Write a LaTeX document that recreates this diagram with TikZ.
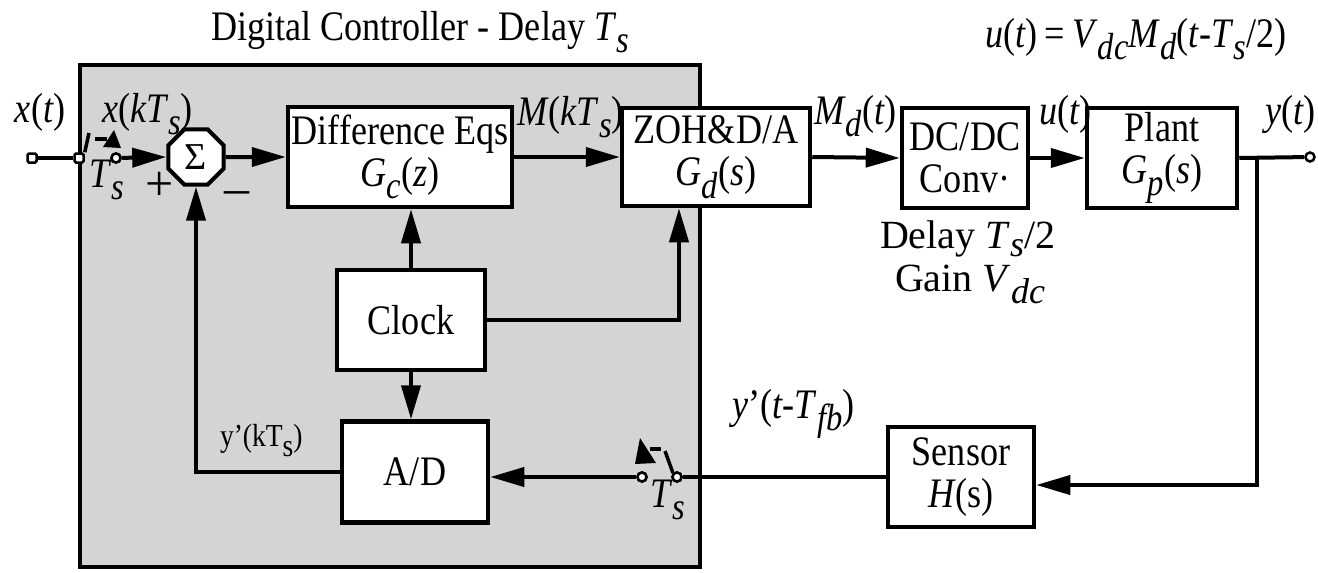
\documentclass[tikz,border=0pt]{standalone}
\usepackage{graphicx}
\usepackage{fontspec}
\setmainfont{Liberation Serif}[FakeStretch=0.86]
\newfontfamily\widefont{Liberation Serif}
\usetikzlibrary{arrows.meta,shapes.geometric}
\newcommand{\fmain}{\fontsize{42}{42}\selectfont}
\newcommand{\fsml}{\fontsize{32}{34}\selectfont}
\newcommand{\fwide}{\widefont\fontsize{40}{40}\selectfont}
\newcommand{\fsgn}{\widefont\fontsize{50}{50}\selectfont}
\newcommand{\mi}[1]{\textit{#1}}
\newcommand{\sbs}[1]{\raisebox{-0.3em}{\scalebox{0.9}{\textit{#1}}}}
\newcommand{\sbl}[1]{\raisebox{-0.22em}{\scalebox{0.9}{\textit{#1}}}}
\newcommand{\sbr}[1]{\raisebox{-0.32em}{#1}}
\tikzset{
  blk/.style={draw, fill=white, line width=4.5pt, inner sep=0pt, align=center, font=\fmain},
  arr/.style={-{Triangle[length=34pt,width=19pt]}},
  term/.style={circle, draw, fill=white, line width=2.5pt, minimum size=9pt, inner sep=0pt},
  termsq/.style={rectangle, rounded corners=1.5pt, draw, fill=white, line width=2.5pt, minimum size=9pt, inner sep=0pt},
  lbl/.style={anchor=base west, inner sep=0pt, font=\fmain},
  sgn/.style={anchor=center, inner sep=0pt, font=\fsgn},
}
\begin{document}
\begin{tikzpicture}[x=1pt,y=-1pt,line width=4pt]
\useasboundingbox (0,0) rectangle (1318,573);
% controller box
\node[draw, fill={rgb,255:red,212;green,212;blue,212}, line width=4.5pt, minimum width=620pt, minimum height=502pt, inner sep=0pt] (ctrl) at (390,316) {};
% blocks
\node[regular polygon, regular polygon sides=8, minimum size=60pt, draw, fill=white, line width=4pt, inner sep=0pt, font=\widefont\fontsize{38}{38}\selectfont] (sum) at (196,157) {Σ};
\node[blk, minimum width=224pt, minimum height=100pt] (diff) at (400,157) {Difference Eqs\\\mi{G}\sbs{c}(\mi{z})};
\node[blk, minimum width=188pt, minimum height=98pt] (zoh) at (716,157) {ZOH\&D/A\\\mi{G}\sbs{d}(\mi{s})};
\node[blk, minimum width=126pt, minimum height=100pt] (dcdc) at (965,158) {DC/DC\\Conv·};
\node[blk, minimum width=150pt, minimum height=100pt] (plant) at (1162,158) {Plant\\\mi{G}\sbs{p}(\mi{s})};
\node[blk, minimum width=148pt, minimum height=100pt] (clock) at (411,320) {Clock};
\node[blk, minimum width=146pt, minimum height=101pt] (ad) at (415,472) {A/D};
\node[blk, minimum width=146pt, minimum height=100pt] (sensor) at (961,477) {Sensor\\\mi{H}(s)};
% terminals and switches
\node[termsq] (xin) at (32,158) {};
\node[termsq] (s1a) at (79,158) {};
\node[term] (s1b) at (116,158) {};
\node[term] (yout) at (1310,157) {};
\node[term] (s2l) at (642,477) {};
\node[term] (s2r) at (677,477) {};
\coordinate (br) at (1257,157);
\coordinate (brd) at (1257,485);
\coordinate (ckturn) at (679,320);
% connectors
\draw (xin) -- (s1a);
\draw[arr] (s1b) -- (sum.west);
\draw[arr] (sum.east) -- (diff.west);
\draw[arr] (diff.east) -- (zoh.west);
\draw[arr] (zoh.east) -- (dcdc.west);
\draw[arr] (dcdc.east) -- (plant.west);
\draw (plant.east) -- (yout);
\draw[arr] (br) -- (brd) -- (sensor.east |- brd);
\draw (sensor.west) -- (s2r);
\draw[arr] (s2l) -- (ad.east |- s2l);
\draw[arr] (ad.west) -- (sum.south |- ad.west) -- (sum.south);
\draw[arr] (clock.north) -- (clock.north |- diff.south);
\draw[arr] (clock.south) -- (clock.south |- ad.north);
\draw[arr] (clock.east) -- (ckturn) -- (ckturn |- zoh.south);
% switch symbols
\draw[line width=3.5pt] (s1a.north east) -- (89,133);
\draw[line width=4pt] (95,139) -- (107,139);
\fill (114,130) -- (121,148) -- (103,147) -- cycle;
\draw[line width=3.5pt] (s2r.north west) -- (665,451);
\draw[line width=4pt] (650,449) -- (661,449);
\fill (640,438) -- (635,464) -- (656,463) -- cycle;
\node[term] at (s1b) {};
\node[term] at (s2l) {};
\node[term] at (s2r) {};
% labels
\node[lbl] (title) at (209,40) {Digital Controller - Delay \mi{T}\sbs{s}};
\node[lbl] (ueq) at (983,47) {\mi{u}(\mi{t})\,=\,\mi{V}\sbs{dc}\mi{M}\sbs{d}(\mi{t}-\mi{T}\sbs{s}/2)};
\node[lbl] (lxt) at (13,122) {\mi{x}(\mi{t})};
\node[lbl] (lxk) at (100,122) {\mi{x}(\mi{kT}\sbs{s})};
\node[lbl] (lts1) at (87,187) {\mi{T}\sbs{s}};
\node[sgn] (lplus) at (160,186) {+};
\node[sgn] (lminus) at (237,198) {–};
\node[lbl] (lm) at (515,125) {\mi{M}(\mi{kT}\sbs{s})};
\node[lbl] (lmd) at (812,124) {\mi{M}\sbs{d}(\mi{t})};
\node[lbl] (lu) at (1037,124) {\mi{u}(\mi{t})};
\node[lbl] (ly) at (1263,124) {\mi{y}(\mi{t})};
\node[lbl, font=\fwide] (ldelay) at (878,248) {Delay \mi{T}\sbl{s}/2};
\node[lbl, font=\fwide] (lgain) at (893,291) {Gain \mi{V}\sbs{dc}};
\node[lbl, font=\fsml] (lyk) at (218,446) {y'(kT\sbr{s})};
\node[lbl] (lyt) at (730,418) {\mi{y}’(\mi{t}-\mi{T}\sbs{fb})};
\node[lbl] (lts2) at (648,507) {\mi{T}\sbs{s}};
\end{tikzpicture}
\end{document}
